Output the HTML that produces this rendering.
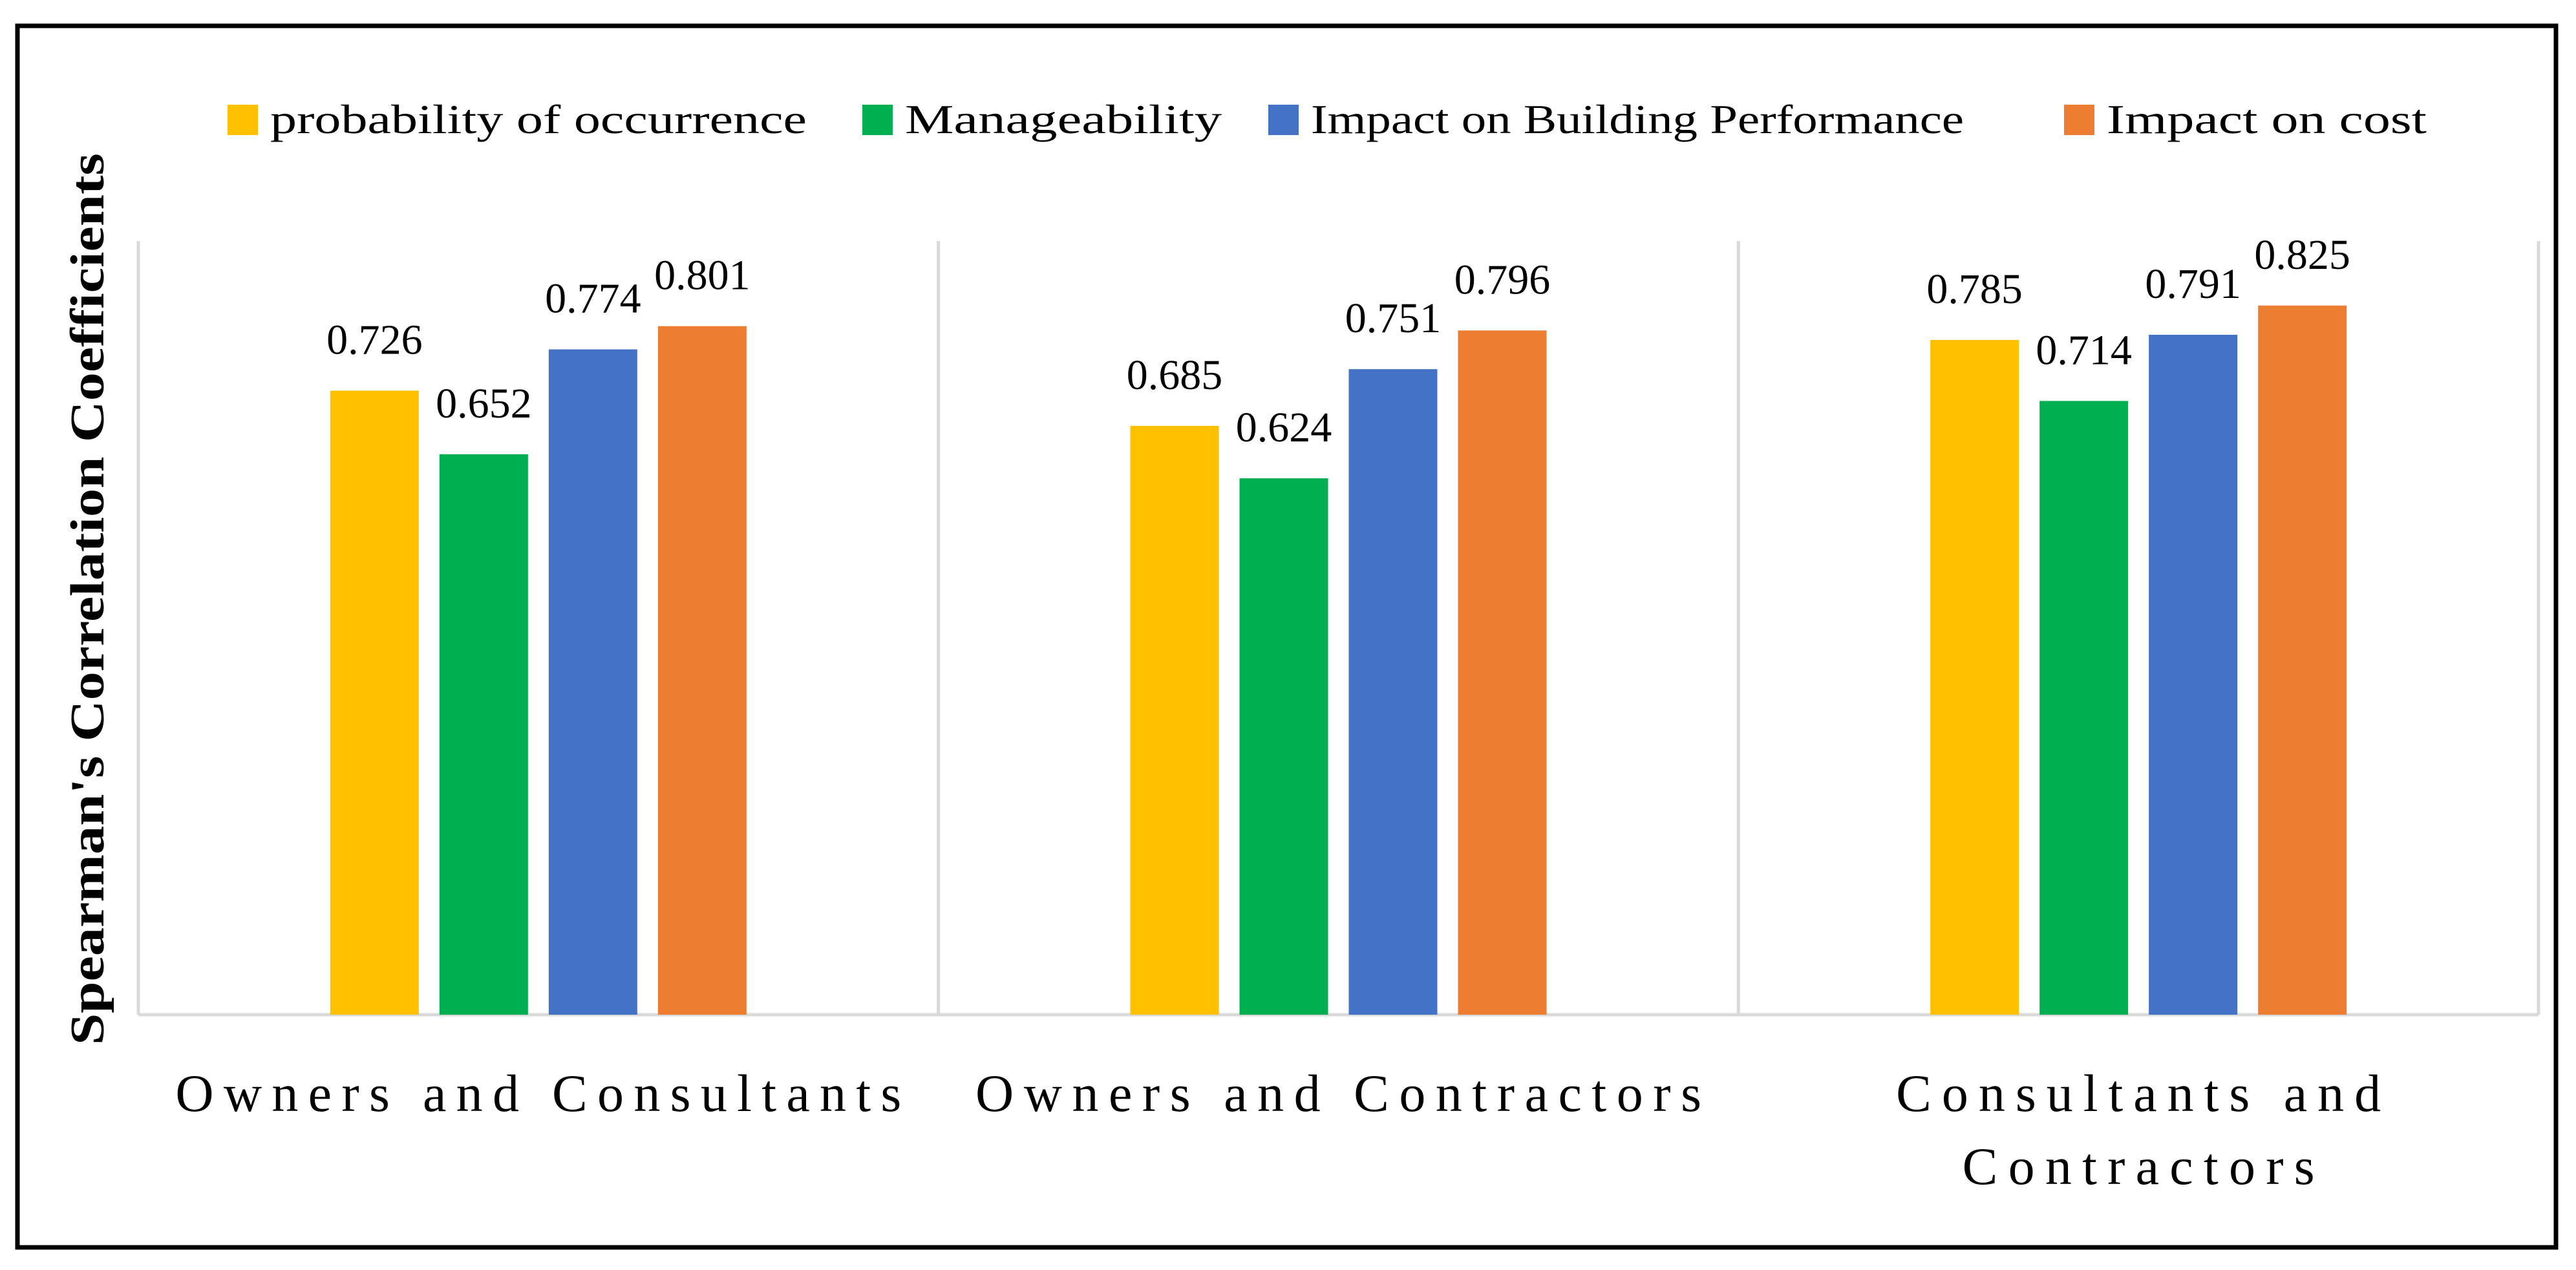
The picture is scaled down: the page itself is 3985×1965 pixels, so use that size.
<!DOCTYPE html>
<html><head><meta charset="utf-8"><style>
html,body{margin:0;padding:0;background:#fff;}
svg{display:block;}
text{font-family:"Liberation Serif",serif;}
</style></head>
<body>
<svg id="chart" width="3985" height="1965" viewBox="0 0 3985 1965" xmlns="http://www.w3.org/2000/svg">
<rect x="0" y="0" width="3985" height="1965" fill="#fff"/>
<rect x="27" y="40" width="3927" height="1890" fill="none" stroke="#000" stroke-width="7"/>
<g id="legend"></g>
<g id="grid"></g>
<g id="bars"></g>
<g id="labels"></g>
<g id="xlabels"></g>
<text x="0" y="0" transform="translate(160,927) rotate(-90)" text-anchor="middle" font-size="74" font-weight="bold" textLength="1380" lengthAdjust="spacingAndGlyphs">Spearman's Correlation Coefficients</text>
</svg>
<script>
const categories = [["Owners and Consultants"], ["Owners and Contractors"], ["Consultants and", "Contractors"]];
const seriesNames = ["probability of occurrence", "Manageability", "Impact on Building Performance", "Impact on cost"];
const probability = [0.726, 0.685, 0.785];
const manageability = [0.652, 0.624, 0.714];
const performance = [0.774, 0.751, 0.791];
const cost = [0.801, 0.796, 0.825];
const colors = ["#FFC000", "#00B050", "#4472C4", "#ED7D31"];
const yMax = 0.9;

const NS = "http://www.w3.org/2000/svg";
const series = [probability, manageability, performance, cost];
const plotL = 214, plotR = 3927, plotT = 373, plotB = 1570;
const catW = (plotR - plotL) / categories.length;
const barW = 137, barStep = 169;
function y(v){ return plotB - v / yMax * (plotB - plotT); }
function catCenter(i){ return plotL + catW * (i + 0.5); }
function mk(tag, attrs, parent){ const e = document.createElementNS(NS, tag); for (const k in attrs) e.setAttribute(k, attrs[k]); parent.appendChild(e); return e; }

const grid = document.getElementById('grid');
for (let i = 0; i <= categories.length; i++) {
  const x = plotL + catW * i;
  const l = mk('line', {x1:x, x2:x, y1:plotT, y2:plotB, stroke:'#d9d9d9', 'stroke-width':5}, grid);
  
  
}
const axis = mk('line', {x1:plotL, x2:plotR, y1:plotB, y2:plotB, stroke:'#d9d9d9', 'stroke-width':5}, grid);



const bars = document.getElementById('bars'), labels = document.getElementById('labels');
categories.forEach((c, i) => {
  series.forEach((s, j) => {
    const cx = catCenter(i) + (j - 1.5) * barStep;
    const r = mk('rect', {x:cx - barW/2, y:y(s[i]), width:barW, height:plotB - y(s[i]), fill:colors[j]}, bars);
    
    
    const t = mk('text', {x:cx, y:y(s[i]) - 57, 'text-anchor':'middle', 'font-size':66, fill:'#000'}, labels);
    t.textContent = s[i].toFixed(3);
    
    
  });
});

const xl = document.getElementById('xlabels');
const lineW = [[1123], [1123], [750, 545]];
categories.forEach((c, i) => {
  c.forEach((line, k) => {
    const t = mk('text', {x:catCenter(i), y:1719 + k * 113, 'text-anchor':'middle', 'font-size':82, fill:'#000', textLength:lineW[i][k], lengthAdjust:'spacing'}, xl);
    t.textContent = line;
    
    
  });
});

const lg = document.getElementById('legend');
const legX = [352, 1334, 1962, 3193];
const legW = [830, 490, 1010, 495];
seriesNames.forEach((n, j) => {
  const r = mk('rect', {x:legX[j], y:162, width:47, height:47, fill:colors[j]}, lg);
  
  
  const t = mk('text', {x:legX[j] + 66, y:206, 'font-size':64, fill:'#000', textLength:legW[j], lengthAdjust:'spacingAndGlyphs'}, lg);
  t.textContent = n;
  
  
});
</script>
</body></html>
